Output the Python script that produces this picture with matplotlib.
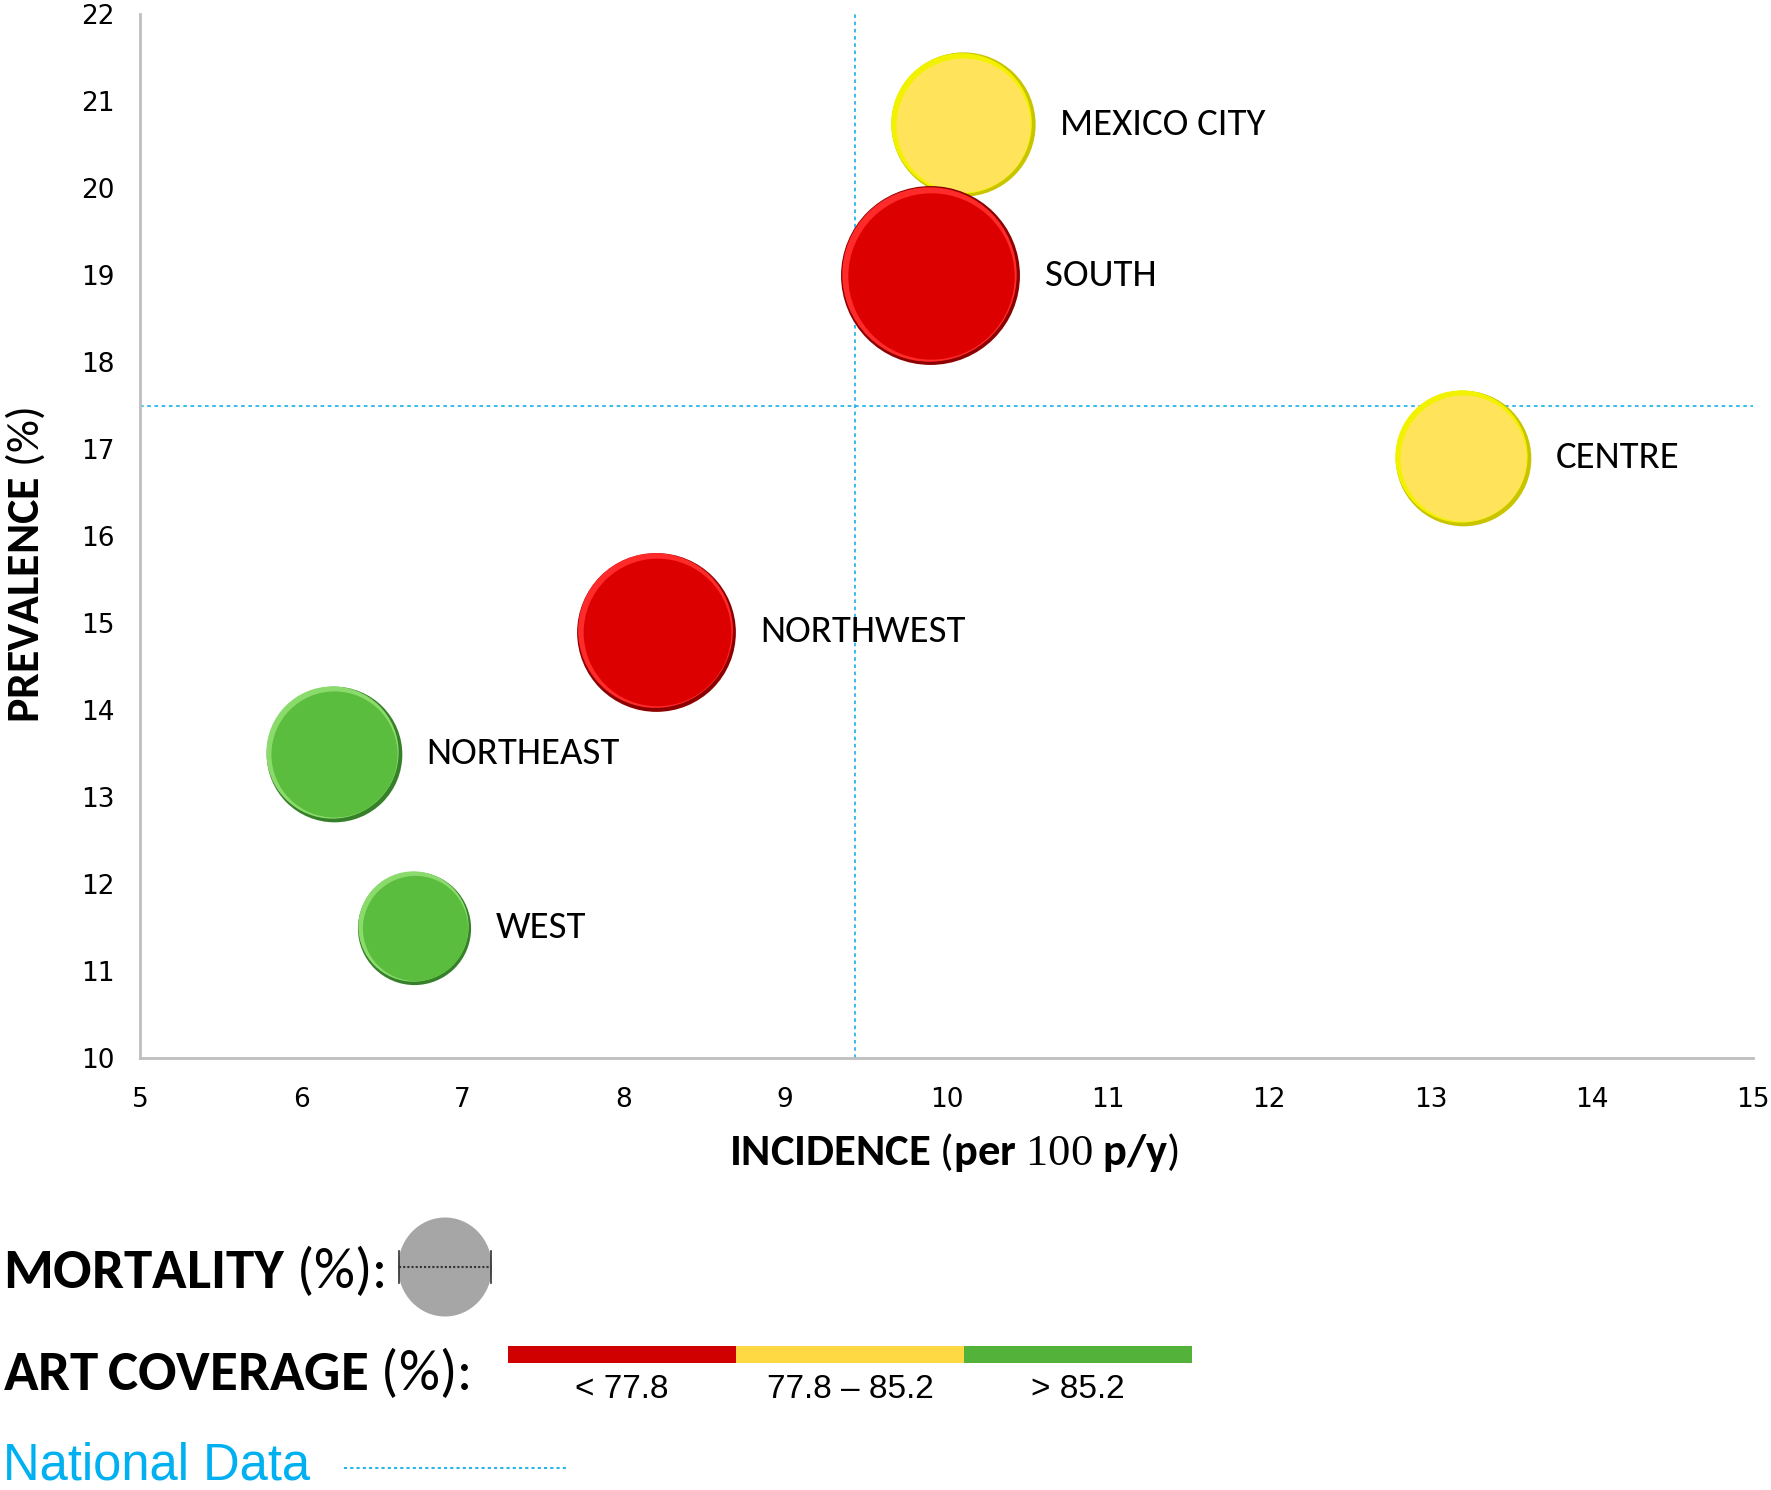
import matplotlib
matplotlib.use("Agg")
import matplotlib.pyplot as plt
import numpy as np
from matplotlib.transforms import ScaledTranslation
from matplotlib.patches import Ellipse, Rectangle

# data
regions = ["MEXICO CITY", "SOUTH", "CENTRE", "NORTHWEST", "NORTHEAST", "WEST"]
incidence = [10.1, 9.9, 13.2, 8.2, 6.2, 6.7]
prevalence = [20.73, 19.0, 16.9, 14.9, 13.5, 11.5]
mortality = [5.2, 8.0, 4.6, 6.3, 4.6, 3.2]          # bubble area, relative
art_group = [1, 0, 1, 0, 2, 2]                      # 0: <77.8, 1: 77.8-85.2, 2: >85.2
art_labels = ["< 77.8", "77.8 \u2013 85.2", "> 85.2"]
national_incidence = 9.43
national_prevalence = 17.5

# colours per ART group: dark rim, light edge, fill
art_fill = ["#DD0000", "#FFE35A", "#5BBD3E"]
art_dark = ["#8E0000", "#C9C400", "#36802A"]
art_light = ["#FF2A2A", "#F2F200", "#8ADB6C"]
art_bar = ["#D00000", "#FFD944", "#52B23A"]
nat_color = "#29B6E8"

plt.rcParams['mathtext.fontset'] = 'custom'
plt.rcParams['mathtext.bf'] = 'Carlito:bold'
plt.rcParams['mathtext.rm'] = 'Liberation Serif'

W, H = 1771, 1490
fig = plt.figure(figsize=(W / 100, H / 100), dpi=100)
ax = fig.add_axes([140 / W, 1 - 1058 / H, (1753 - 140) / W, (1058 - 14) / H])

ax.set_xlim(5, 15)
ax.set_ylim(10, 22)
ax.set_xticks(range(5, 16))
ax.set_yticks(range(10, 23))
for s in ["top", "right"]:
    ax.spines[s].set_visible(False)
for s in ["left", "bottom"]:
    ax.spines[s].set_color("#BFBFBF")
    ax.spines[s].set_linewidth(2)
ax.tick_params(axis="both", length=0, labelsize=19, colors="black")
ax.tick_params(axis="y", pad=18)
ax.tick_params(axis="x", pad=21)

ax.axvline(national_incidence, color=nat_color, ls=(0, (2, 2)), lw=1.3, zorder=1)
ax.axhline(national_prevalence, color=nat_color, ls=(0, (2, 2)), lw=1.3, zorder=1)

sizes = [2074 * m for m in mortality]


def shifted(dx, dy):
    return ax.transData + ScaledTranslation(dx / 72, dy / 72, fig.dpi_scale_trans)


z = 3
for name, x, y, s, g in zip(regions, incidence, prevalence, sizes, art_group):
    d = np.sqrt(s)
    # bevel look: dark rim, light top-left edge, fill
    ax.scatter([x], [y], s=s, color=art_dark[g], lw=0, zorder=z)
    ax.scatter([x], [y], s=(d * 0.975) ** 2, color=art_light[g], lw=0, zorder=z + 0.1,
               transform=shifted(-0.9, 0.9))
    ax.scatter([x], [y], s=(d * 0.93) ** 2, color=art_fill[g], lw=0, zorder=z + 0.2,
               transform=shifted(0.4, -0.4))
    ax.annotate(name, (x, y), xytext=(d / 2 + 18, 0), textcoords="offset points",
                va="center", ha="left", fontsize=28, fontfamily="Carlito", zorder=10)
    z += 1

# overlay in pixel coords for axis titles and legend
ov = fig.add_axes([0, 0, 1, 1], facecolor="none")
ov.set_xlim(0, W)
ov.set_ylim(H, 0)
ov.axis("off")

ov.text(954, 1152, r"$\mathbf{INCIDENCE}$ ($\mathbf{per}$ $\mathrm{100}$ $\mathbf{p/y}$)",
        ha="center", va="center", fontsize=32, fontfamily="Carlito")
ov.text(25, 565, r"$\mathbf{PREVALENCE}$ (%)", rotation=90, ha="center", va="center",
        fontsize=33, fontfamily="Carlito")

ov.text(3, 1271, r"$\mathbf{MORTALITY}$ (%):", ha="left", va="center", fontsize=41,
        fontfamily="Carlito")
ov.text(3, 1373, r"$\mathbf{ART\,COVERAGE}$ (%):", ha="left", va="center", fontsize=41,
        fontfamily="Carlito")
ov.text(3, 1466, "National Data", ha="left", va="center", fontsize=36.5,
        color="#00B0F0", fontfamily="Liberation Sans")

ov.add_patch(Ellipse((445, 1267), 94, 99, color="#A6A6A6", lw=0))
ov.plot([399, 491], [1267, 1267], color="#333333", ls=(0, (1, 1)), lw=1.5)
ov.plot([399, 399], [1251, 1283], color="#333333", lw=1.2)
ov.plot([491, 491], [1251, 1283], color="#333333", lw=1.2)

bar_x = [508, 736, 964]
for i, lab in enumerate(art_labels):
    ov.add_patch(Rectangle((bar_x[i], 1346), 228, 17, color=art_bar[i], lw=0))
    ov.text(bar_x[i] + 114, 1390, lab, ha="center", va="center", fontsize=24,
            fontfamily="Liberation Sans")

ov.plot([344, 567], [1468, 1468], color=nat_color, ls=(0, (1.5, 1.5)), lw=1.5)

fig.savefig("out.png", dpi=100)
